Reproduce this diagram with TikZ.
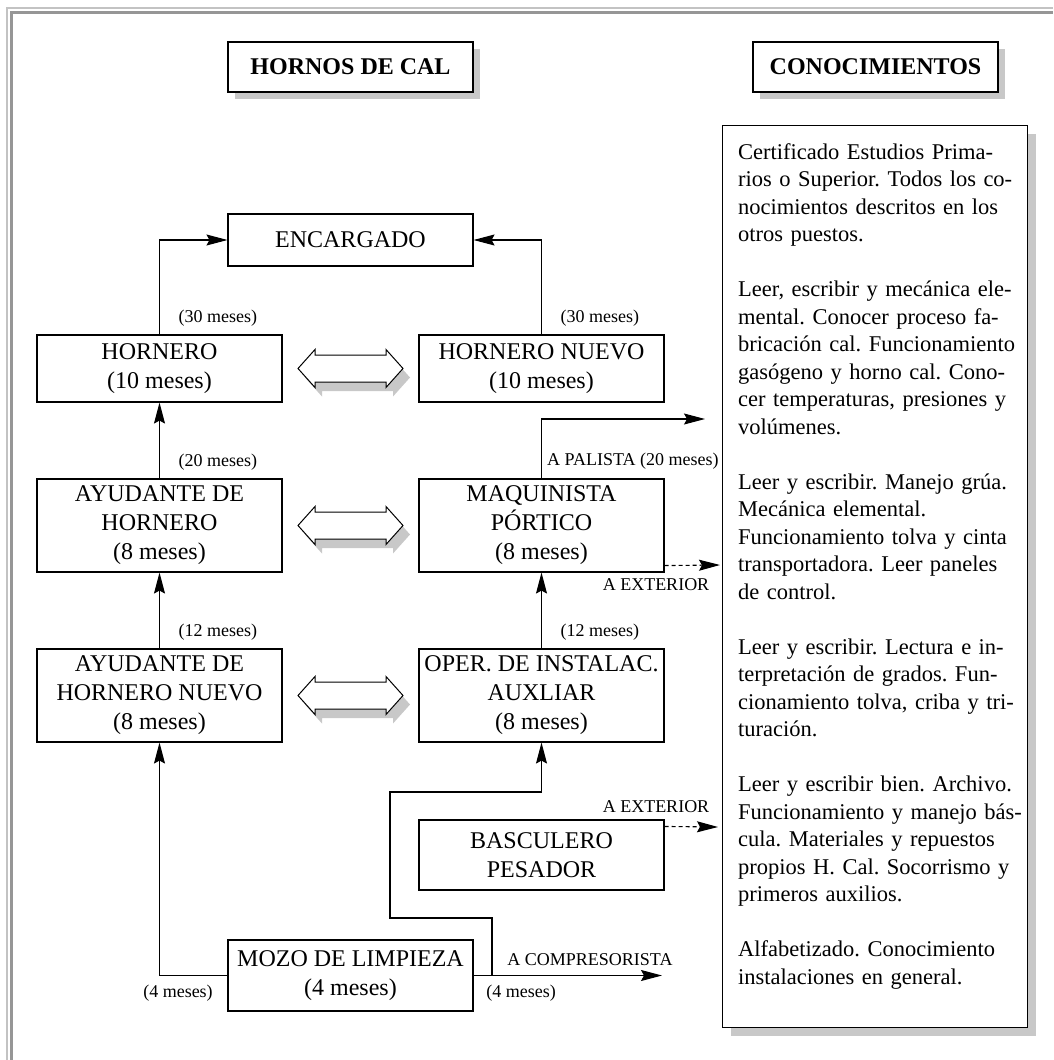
\documentclass[tikz,border=0pt]{standalone}
\usepackage{fontspec}
\setmainfont{Liberation Serif}
\usetikzlibrary{arrows.meta,calc,shadows}
\definecolor{shd}{RGB}{200,200,200}
\definecolor{frlight}{RGB}{195,195,195}
\definecolor{frdark}{RGB}{150,150,150}
\newcommand{\jline}[1]{\makebox[273pt][s]{#1}}
\frenchspacing
\begin{document}
\begin{tikzpicture}[x=1pt,y=-1pt,
  box/.style={draw, line width=1.1pt, fill=white, align=center,
    font=\fontsize{24}{29}\selectfont, inner sep=0pt, minimum width=245pt},
  headbox/.style={box, font=\fontsize{24}{29}\selectfont\bfseries, minimum height=50pt,
    drop shadow={shadow xshift=7pt, shadow yshift=-7pt, fill=shd, opacity=1}},
  lab/.style={font=\fontsize{18}{21}\selectfont, inner sep=0pt},
  arr/.style={line width=1.1pt, -{Stealth[length=21pt,width=11pt,inset=3pt]}},
  darr/.style={arr, dash pattern=on 4pt off 3pt},
  dbl/.pic={
    \fill[shd, shift={(7,9)}] (-52.5,0) -- (-35.5,-19) -- (-35.5,-13.5) -- (35.5,-13.5) -- (35.5,-19)
      -- (52.5,0) -- (35.5,19) -- (35.5,13.5) -- (-35.5,13.5) -- (-35.5,19) -- cycle;
    \draw[fill=white, line width=1pt] (-52.5,0) -- (-35.5,-19) -- (-35.5,-13.5) -- (35.5,-13.5) -- (35.5,-19)
      -- (52.5,0) -- (35.5,19) -- (35.5,13.5) -- (-35.5,13.5) -- (-35.5,19) -- cycle;
  }
]
\useasboundingbox (0,0) rectangle (1053,1060);
\fill[white] (0,0) rectangle (1053,1060);

% frame
\draw[frlight, line width=1.2pt] (7,1060) -- (7,8) -- (1053,8);
\draw[frdark, line width=3pt] (11.5,1060) -- (11.5,12.5) -- (1053,12.5);

% headings
\node[headbox] (hornos) at (350.5,67) {HORNOS DE CAL};
\node[headbox] (conoc) at (875.5,67) {CONOCIMIENTOS};

% knowledge column
\node[draw, line width=1.1pt, fill=white, minimum width=305pt, minimum height=902pt,
  anchor=north west, inner sep=0pt,
  drop shadow={shadow xshift=8pt, shadow yshift=-8pt, fill=shd, opacity=1}] (know) at (722,125) {};
\node[anchor=north west, inner sep=0pt, text width=273pt, align=left,
  font=\fontsize{22.5}{27.5}\selectfont] (ktext) at (738,143) {%
\jline{Certificado Estudios Prima-}\\
\jline{rios o Superior. Todos los co-}\\
\jline{nocimientos descritos en los}\\
otros puestos.\\[27.5pt]
\jline{Leer, escribir y mecánica ele-}\\
\jline{mental. Conocer proceso fa-}\\
\jline{bricación cal. Funcionamiento}\\
\jline{gasógeno y horno cal. Cono-}\\
\jline{cer temperaturas, presiones y}\\
volúmenes.\\[27.5pt]
\jline{Leer y escribir. Manejo grúa.}\\
Mecánica elemental.\\
\jline{Funcionamiento tolva y cinta}\\
\jline{transportadora. Leer paneles}\\
de control.\\[27.5pt]
\jline{Leer y escribir. Lectura e in-}\\
\jline{terpretación de grados. Fun-}\\
\jline{cionamiento tolva, criba y tri-}\\
turación.\\[27.5pt]
\jline{Leer y escribir bien. Archivo.}\\
\jline{Funcionamiento y manejo bás-}\\
\jline{cula. Materiales y repuestos}\\
\jline{propios H. Cal. Socorrismo y}\\
primeros auxilios.\\[27.5pt]
\jline{Alfabetizado. Conocimiento}\\
instalaciones en general.};

% job boxes
\node[box, minimum height=52pt] (enc) at (350.5,240) {ENCARGADO};
\node[box, minimum height=67pt] (hornero) at (159.5,368.5) {HORNERO\\(10 meses)};
\node[box, minimum height=67pt] (hnuevo) at (541.5,368.5) {HORNERO NUEVO\\(10 meses)};
\node[box, minimum height=93pt] (ayud) at (159.5,525.5) {AYUDANTE DE\\HORNERO\\(8 meses)};
\node[box, minimum height=93pt] (maq) at (541.5,525.5) {MAQUINISTA\\PÓRTICO\\(8 meses)};
\node[box, minimum height=93pt] (ayudn) at (159.5,695.5) {AYUDANTE DE\\HORNERO NUEVO\\(8 meses)};
\node[box, minimum height=93pt] (oper) at (541.5,695.5) {OPER. DE INSTALAC.\\AUXLIAR\\(8 meses)};
\node[box, minimum height=70pt] (bas) at (541.5,855) {BASCULERO\\PESADOR};
\node[box, minimum height=71pt] (mozo) at (350.5,975.5) {MOZO DE LIMPIEZA\\(4 meses)};

% double arrows
\pic at (350.5,368.5) {dbl};
\pic at (350.5,525.5) {dbl};
\pic at (350.5,695.5) {dbl};

% promotions
\draw[arr] (hornero.north) |- (enc.west);
\draw[arr] (hnuevo.north) |- (enc.east);
\draw[arr] (ayud.north) -- (hornero.south);
\draw[arr] (ayudn.north) -- (ayud.south);
\draw[arr] (oper.north) -- (maq.south);
\draw[arr] (mozo.west) -| (ayudn.south);

\node[lab, anchor=west] at ($(hornero.north)+(19,-16)$) {(30 meses)};
\node[lab, anchor=west] at ($(hnuevo.north)+(19,-16)$) {(30 meses)};
\node[lab, anchor=west] at ($(ayud.north)+(19,-16)$) {(20 meses)};
\node[lab, anchor=west] at ($(ayudn.north)+(19,-16)$) {(12 meses)};
\node[lab, anchor=west] at ($(oper.north)+(19,-16)$) {(12 meses)};

% a palista
\coordinate (palista) at (705,419);
\draw[arr] (maq.north) |- (palista);
\node[lab, anchor=west] at ($(maq.north)+(5.5,-17)$) {A PALISTA (20 meses)};

% a exterior
\coordinate (ext1s) at ($(maq.south east)+(0,-7)$);
\coordinate (ext1) at (720,565);
\draw[darr] (ext1s) -- (ext1);
\node[lab] at (656,585) {A EXTERIOR};
\coordinate (ext2s) at ($(bas.north east)+(0,7)$);
\coordinate (ext2) at (718,827);
\draw[darr] (ext2s) -- (ext2);
\node[lab] at (656,807) {A EXTERIOR};

% mozo right
\coordinate (comp) at (662,975.5);
\draw[arr] (mozo.east) -- (comp);
\node[lab] at (590,960) {A COMPRESORISTA};
\node[lab] at (521,993) {(4 meses)};
\node[lab] at (178,993) {(4 meses)};

% route to oper
\coordinate (z0) at (492,975.5);
\coordinate (z1) at (492,918);
\coordinate (z2) at (390,918);
\coordinate (z3) at (390,792);
\draw[arr] (z0) -- (z1) -- (z2) -- (z3) -| (oper.south);
\end{tikzpicture}
\end{document}
